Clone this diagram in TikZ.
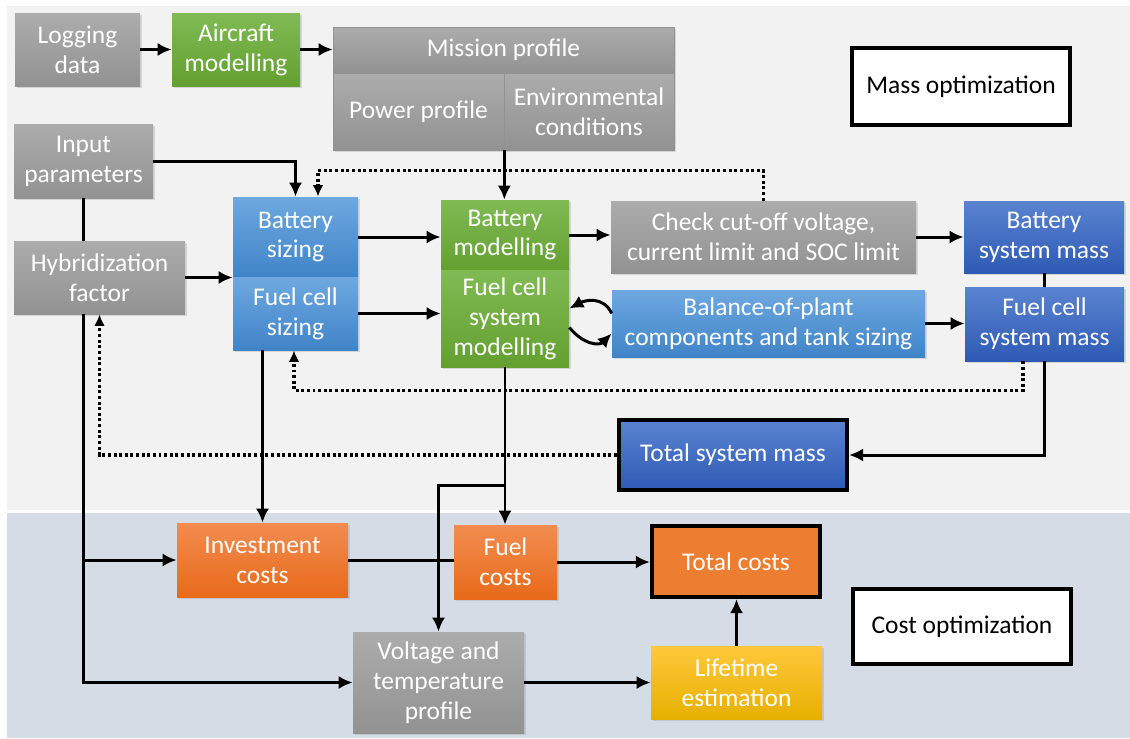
\documentclass[tikz,border=0pt]{standalone}
\usepackage{fontspec}
\setmainfont{Carlito}
\usetikzlibrary{arrows.meta}
\usetikzlibrary{calc, shadows}
\definecolor{bgtop}{RGB}{242,242,242}
\definecolor{bgbot}{RGB}{214,220,229}
\definecolor{graytop}{RGB}{172,172,172}
\definecolor{graybot}{RGB}{146,146,146}
\definecolor{greentop}{RGB}{128,186,84}
\definecolor{greenbot}{RGB}{99,160,48}
\definecolor{lbluetop}{RGB}{110,168,223}
\definecolor{lbluebot}{RGB}{64,132,200}
\definecolor{dbluetop}{RGB}{90,131,208}
\definecolor{dbluebot}{RGB}{46,90,180}
\definecolor{orangetop}{RGB}{242,140,80}
\definecolor{orangebot}{RGB}{232,106,26}
\definecolor{orangeflat}{RGB}{237,125,49}
\definecolor{yellowtop}{RGB}{255,200,60}
\definecolor{yellowbot}{RGB}{230,176,0}

\begin{document}
\begin{tikzpicture}[x=0.02cm, y=-0.02cm,
blk/.style={rectangle, inner sep=2pt, align=center, text=white,
  font=\fontsize{14.5}{17}\selectfont,
  drop shadow={shadow xshift=1.2pt, shadow yshift=-1.2pt, opacity=0.25}},
sz/.style 2 args={minimum width=#1*0.02cm, minimum height=#2*0.02cm},
gry/.style={blk, top color=graytop, bottom color=graybot},
grn/.style={blk, top color=greentop, bottom color=greenbot},
lbl/.style={blk, top color=lbluetop, bottom color=lbluebot},
dbl/.style={blk, top color=dbluetop, bottom color=dbluebot},
org/.style={blk, top color=orangetop, bottom color=orangebot},
ylw/.style={blk, top color=yellowtop, bottom color=yellowbot},
thk/.style={draw=black, line width=2.4pt},
optbox/.style={rectangle, fill=white, draw=black, line width=1.8pt,
  font=\fontsize{14.5}{17}\selectfont},
ln/.style={line width=1.7pt},
lnk/.style={ln, -{Latex[length=8pt, width=7.5pt]}},
dots/.style={line width=1.8pt, dash pattern=on 1.7pt off 1.5pt,
  -{Latex[length=6.5pt, width=6pt]}},
]
\useasboundingbox (0,0) rectangle (1130,738);

% two regions
\fill[bgtop] (7,6) rectangle (1130,510);
\fill[bgbot] (7,513) rectangle (1130,738);

% mass optimization part
\node[gry, sz={125}{73}] (log) at (77.5,49.5) {Logging\\data};
\node[grn, sz={128}{73}] (air) at (236,49.5) {Aircraft\\modelling};
\node[gry, sz={341}{46}, draw=graybot, line width=0.4pt] (mis) at (503.5,50) {Mission profile};
\node[gry, sz={171}{77}, draw=graybot, line width=0.4pt] (pow) at (418.5,111.5) {Power profile};
\node[gry, sz={170}{77}, draw=graybot, line width=0.4pt] (env) at (589,111.5) {Environmental\\conditions};
\node[optbox, sz={218}{77}] (massopt) at (961,86.5) {Mass optimization};

\node[gry, sz={139}{74}] (inp) at (83.5,161) {Input\\parameters};
\node[gry, sz={171}{73}] (hyb) at (99.5,277.5) {Hybridization\\factor};
\node[lbl, sz={125}{80}] (bsz) at (295.5,237) {Battery\\sizing};
\node[lbl, sz={125}{73}] (fsz) at (295.5,313.5) {Fuel cell\\sizing};
\node[grn, sz={128}{70}] (bmod) at (505,235) {Battery\\modelling};
\node[grn, sz={128}{97}] (fmod) at (505,318.5) {Fuel cell\\system\\modelling};
\node[gry, sz={305}{72}] (chk) at (763.5,237) {Check cut-off voltage,\\current limit and SOC limit};
\node[lbl, sz={313}{67}] (bop) at (768.5,323.5) {Balance-of-plant\\components and tank sizing};
\node[dbl, sz={160}{72}] (bmass) at (1044,237) {Battery\\system mass};
\node[dbl, sz={159}{74}] (fmass) at (1044.5,324) {Fuel cell\\system mass};
\node[dbl, thk, sz={228}{70}] (tot) at (733,455) {Total system mass};

% cost optimization part
\node[org, sz={171}{74}] (inv) at (262.5,560) {Investment\\costs};
\node[org, sz={103}{74}] (fuel) at (505.5,562) {Fuel\\costs};
\node[blk, fill=orangeflat, thk, sz={168}{71}] (tc) at (736,561.5) {Total costs};
\node[gry, sz={171}{101}] (vt) at (438.5,682.5) {Voltage and\\temperature\\profile};
\node[ylw, sz={171}{73}] (life) at (736.5,682.5) {Lifetime\\estimation};
\node[optbox, sz={218}{75}] (costopt) at (962,626.5) {Cost optimization};

% connectors
\draw[lnk] (log) -- (air);
\draw[lnk] (air) -- (air -| mis.west);
\draw[lnk] (inp.east) -| (bsz.north);
\draw[lnk] (pow.south east) -- (pow.south east |- bmod.north);
\draw[ln] (inp.south) -- (inp.south |- hyb.north);
\draw[lnk] (inp.south |- hyb.south) |- (vt.west);
\draw[lnk] (inp.south |- inv.west) -- (inv.west);
\draw[lnk] (hyb.east) -- (hyb.east -| bsz.west);
\draw[lnk] (bsz.east) -- (bsz.east -| bmod.west);
\draw[lnk] (fsz.east) -- (fsz.east -| fmod.west);
\draw[lnk] (bmod.east) -- (bmod.east -| chk.west);
\draw[lnk] (chk.east) -- (chk.east -| bmass.west);
\draw[ln] (bmass.south) -- (bmass.south |- fmass.north);
\draw[lnk] (bop.east) -- (bop.east -| fmass.west);
\draw[lnk] ($(bop.west)+(0,-10)$) .. controls +(-8,-18) and +(15,-8) .. ($(fmod.east)+(0,-10)$);
\draw[lnk] ($(fmod.east)+(0,9)$) .. controls +(15,18) and +(-12,12) .. ($(bop.west)+(0,10)$);
\draw[lnk] (fmass.south) |- (tot.east);
\draw[lnk] (fsz.south -| inv.north) -- (inv.north);
\draw[lnk] (fmod.south) -- (fmod.south |- fuel.north);
\draw[lnk] ($(fmod.south)+(0,118)$) -| (vt.north);
\draw[ln] (inv.east) -- (inv.east -| fuel.west);
\draw[lnk] (fuel.east) -- (fuel.east -| tc.west);
\draw[lnk] (vt.east) -- (vt.east -| life.west);
\draw[lnk] (life.north) -- (life.north |- tc.south);

% dotted feedback loops
\draw[dots] (chk.north) -- ++(0,-30) -| ($(bsz.north)+(22.5,0)$);
\draw[dots] ($(fmass.south)+(-21.5,0)$) -- ++(0,29) -| ($(fsz.south)+(-1.5,0)$);
\draw[dots] (tot.west) -| (hyb.south);
\end{tikzpicture}
\end{document}
